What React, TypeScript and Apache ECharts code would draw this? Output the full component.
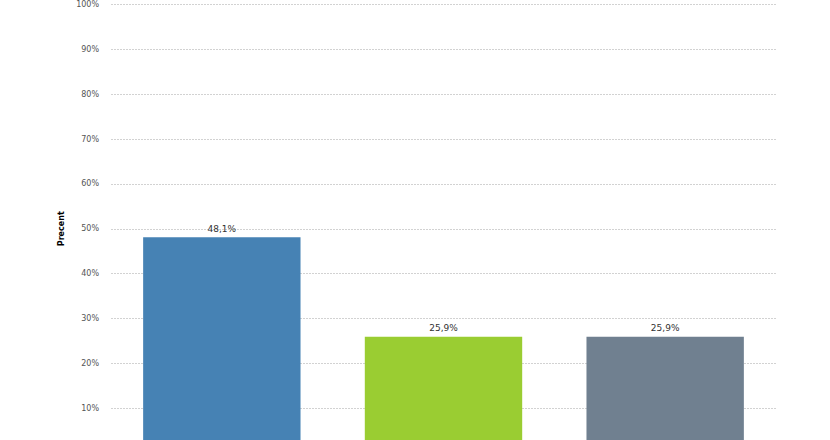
import React, { useEffect, useRef } from "react";
import * as echarts from "echarts";

const categories = ["Kategori 1", "Kategori 2", "Kategori 3"];
const values = [48.1, 25.9, 25.9];
const barColors = ["#4682B4", "#9ACD32", "#708090"];
const yTicks = [0, 10, 20, 30, 40, 50, 60, 70, 80, 90, 100];

export default function App() {
  const ref = useRef<HTMLDivElement>(null);
  useEffect(() => {
    if (!ref.current) return;
    const chart = echarts.init(ref.current, undefined, { renderer: "svg" });
    chart.setOption({
      animation: false,
      grid: { left: 111, right: 54, top: 4.5, bottom: 47, containLabel: false },
      xAxis: {
        type: "category",
        data: categories,
        axisLine: { show: false },
        axisTick: { show: false },
        axisLabel: { show: false },
      },
      yAxis: {
        type: "value",
        min: yTicks[0],
        max: yTicks[yTicks.length - 1],
        interval: 10,
        name: "Precent",
        nameLocation: "middle",
        nameGap: 36,
        nameTextStyle: { fontFamily: "DejaVu Sans", fontSize: 8, fontWeight: "bold", color: "#000" },
        axisLine: { show: false },
        axisTick: { show: false },
        axisLabel: {
          margin: 12,
          showMinLabel: false,
          fontFamily: "DejaVu Sans",
          fontSize: 8,
          color: "#555",
          formatter: (v: number) => `${v}%`,
        },
        splitLine: { lineStyle: { color: "#d2d2d2", type: [2, 1], width: 1 } },
      },
      series: [
        {
          type: "bar",
          data: values.map((v, i) => ({ value: v, itemStyle: { color: barColors[i] } })),
          barCategoryGap: "29%",
          label: {
            show: true,
            position: "top",
            distance: 4,
            fontFamily: "DejaVu Sans",
            fontSize: 9,
            color: "#333",
            formatter: (p: any) => `${String(p.value).replace(".", ",")}%`,
          },
        },
      ],
    });
    return () => chart.dispose();
  }, []);
  return (
    <div style={{ position: "fixed", left: 0, top: 0, width: 830, height: 440, overflow: "hidden", background: "#fff" }}>
      <div ref={ref} style={{ width: 830, height: 500 }} />
    </div>
  );
}
